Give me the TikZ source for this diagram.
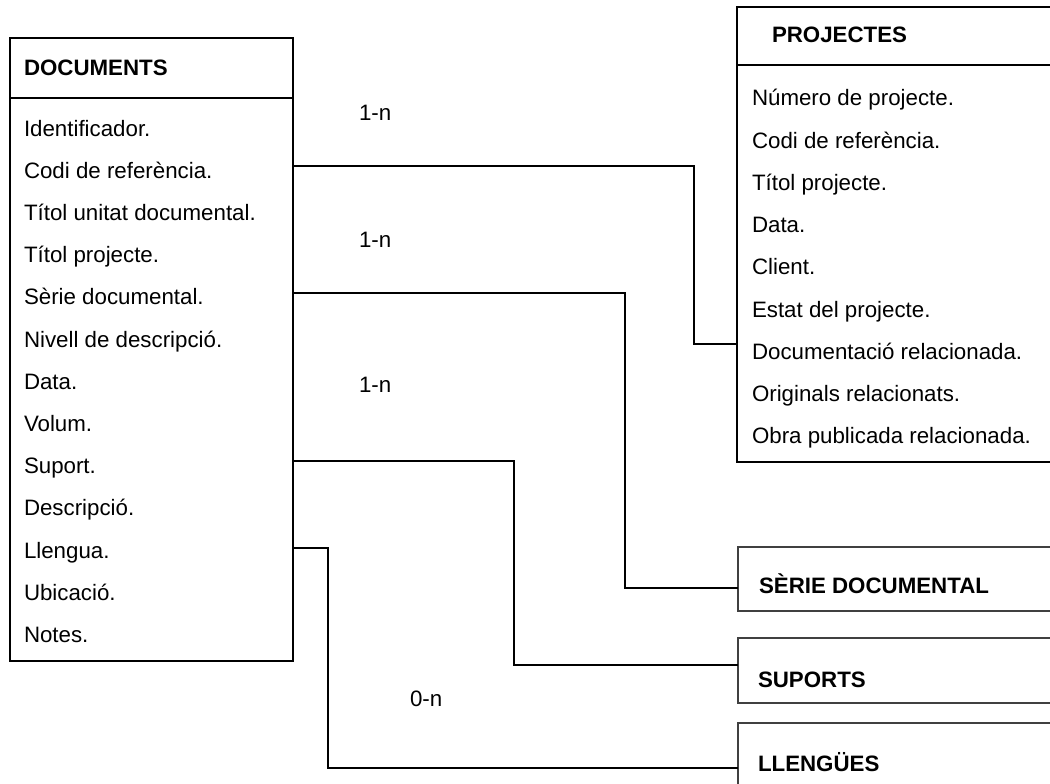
\documentclass[tikz,border=0pt]{standalone}
\usepackage{fontspec}
\setmainfont{Liberation Sans}
\begin{document}
\begin{tikzpicture}[x=1pt,y=-1pt,
  every node/.style={inner sep=0pt, outer sep=0pt, font=\fontsize{22.3}{26}\selectfont},
  item/.style={anchor=base west},
  title/.style={anchor=base west, font=\fontsize{22.3}{26}\selectfont\bfseries},
  bigbox/.style={draw, line width=2pt, rectangle, anchor=north west},
  smallbox/.style={draw=black!75, line width=1.3pt, rectangle, anchor=north west},
  conn/.style={line width=2pt},
  card/.style={anchor=base west}]
\useasboundingbox (0,0) rectangle (1050,784);
\clip (0,0) rectangle (1050,784);

% boxes
\node[bigbox, minimum width=283pt, minimum height=623pt] (docs) at (10,38) {};
\draw[line width=2pt] (docs.west |- 0,98) -- (docs.east |- 0,98);
\node[bigbox, minimum width=400pt, minimum height=455pt] (proj) at (737,7) {};
\draw[line width=2pt] (proj.west |- 0,65) -- (proj.east |- 0,65);
\node[smallbox, minimum width=400pt, minimum height=64pt] (serie) at (738,547) {};
\node[smallbox, minimum width=400pt, minimum height=65pt] (suports) at (738,638) {};
\node[smallbox, minimum width=400pt, minimum height=100pt] (llengues) at (738,723) {};

% titles
\node[title] (tdocs) at (24,76) {DOCUMENTS};
\node[title] (tproj) at (772,43) {PROJECTES};
\node[title] (tserie) at (759,593) {SÈRIE DOCUMENTAL};
\node[title] (tsup) at (758,687) {SUPORTS};
\node[title] (tlle) at (758,771) {LLENGÜES};

% items
\foreach \t [count=\i] in {Identificador., Codi de referència., Títol unitat documental., Títol projecte., Sèrie documental., Nivell de descripció., Data., Volum., Suport., Descripció., Llengua., Ubicació., Notes.}
  \node[item] (d\i) at (24,{136+42.2*(\i-1)}) {\t};
\foreach \t [count=\i] in {Número de projecte., Codi de referència., Títol projecte., Data., Client., Estat del projecte., Documentació relacionada., Originals relacionats., Obra publicada relacionada.}
  \node[item] (p\i) at (752,{106+42.2*(\i-1)}) {\t};

% connectors
\draw[conn] (docs.east |- 0,166) -| (694,344) -- (proj.west |- 0,344);
\draw[conn] (docs.east |- 0,293) -| (625,588) -- (serie.west |- 0,588);
\draw[conn] (docs.east |- 0,461) -| (514,665) -- (suports.west |- 0,665);
\draw[conn] (docs.east |- 0,548) -| (328,768) -- (llengues.west |- 0,768);

% cardinalities
\node[card] (m1) at (359,121) {1-n};
\node[card] (m2) at (359,247) {1-n};
\node[card] (m3) at (359,392) {1-n};
\node[card] (m4) at (410,706) {0-n};
\end{tikzpicture}
\end{document}
